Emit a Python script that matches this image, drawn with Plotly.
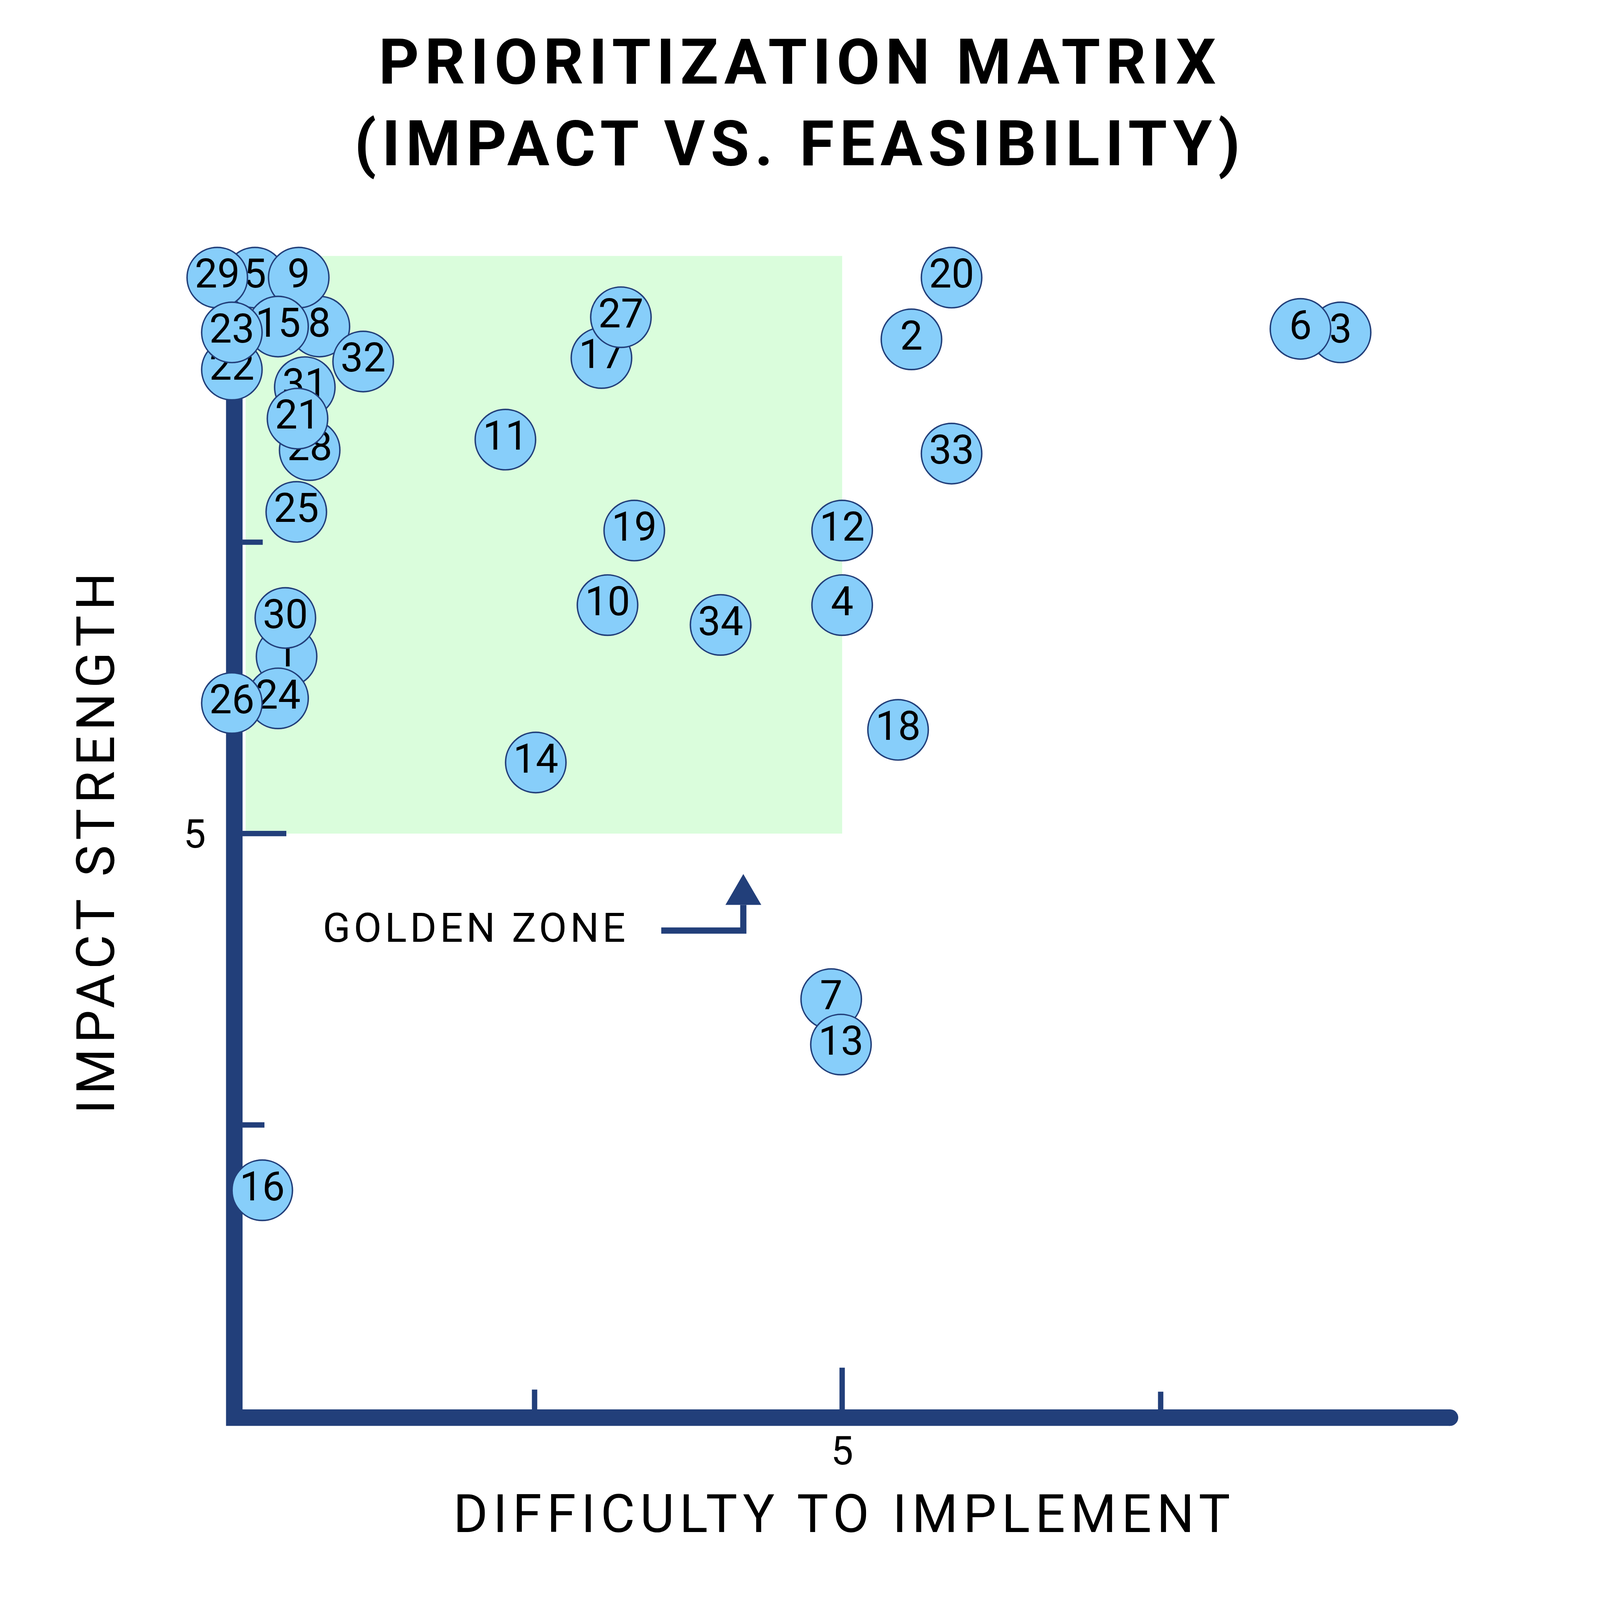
import plotly.graph_objects as go

# the page is drawn at about 4096 css px wide, so everything is scaled from the 7758 px picture
S = 4096 / 7758
W = 4096
H = round(7788 * S)

# colours
navy = "#223f7a"
dot_blue = "#87cefa"
zone_green = "#dafddc"

# points: id, difficulty (x), impact (y)
point_ids = [1, 2, 3, 4, 5, 6, 7, 8, 9, 10, 11, 12, 13, 14, 15, 16, 17,
             18, 19, 20, 21, 22, 23, 24, 25, 26, 27, 28, 29, 30, 31, 32, 33, 34]
difficulty = [0.43, 5.57, 9.10, 5.00, 0.17, 8.77, 4.91, 0.70, 0.53, 3.07, 2.23, 5.00,
              4.99, 2.48, 0.36, 0.23, 3.02, 5.46, 3.29, 5.90, 0.52, -0.02, -0.02,
              0.36, 0.51, -0.02, 3.18, 0.62, -0.14, 0.42, 0.58, 1.06, 5.90, 4.00]
impact = [6.52, 9.24, 9.30, 6.96, 9.77, 9.33, 3.58, 9.35, 9.77, 6.96, 8.38, 7.60,
          3.19, 5.61, 9.35, 1.94, 9.08, 5.89, 7.60, 9.77, 8.56, 8.98, 9.30,
          6.16, 7.76, 6.12, 9.43, 8.29, 9.77, 6.85, 8.83, 9.05, 8.26, 6.79]

# order the dots are stacked in (last one on top)
draw_order = [1, 2, 3, 4, 5, 6, 7, 8, 9, 10, 11, 12, 13, 14, 15, 16, 17, 18, 19,
              20, 22, 24, 25, 26, 27, 28, 29, 30, 31, 32, 33, 34, 21, 23]

# golden zone box and the little arrow pointing at it
zone_x = [0.093, 5.0]
zone_y = [5.0, 9.956]
arrow_line_x = [3.512, 4.187, 4.187]
arrow_line_y = [4.168, 4.168, 4.388]
arrow_head_x = [4.040, 4.187, 4.335]
arrow_head_y = [4.388, 4.653, 4.388]

# ticks (value, end of the tick mark)
x_ticks = [2.47, 5, 7.62]
x_tick_tops = [0.230, 0.418, 0.212]
y_ticks = [2.5, 5, 7.5]
y_tick_ends = [0.248, 0.428, 0.234]
x_labels = [5]
y_labels = [5]

x_range = [-0.16, 10.0]
y_range = [0.0602, 10.0]
half_line = 0.068  # half of the axis line width, in x units

fig = go.Figure()

for pid in draw_order:
    i = point_ids.index(pid)
    fig.add_trace(go.Scatter(
        x=[difficulty[i]], y=[impact[i]],
        mode="markers+text",
        text=[str(pid)],
        textposition="middle center",
        textfont=dict(family="Roboto", size=195 * S, color="black"),
        marker=dict(size=293 * S, color=dot_blue, line=dict(color=navy, width=7 * S)),
        cliponaxis=False,
        showlegend=False,
        hoverinfo="skip",
    ))

# golden zone
fig.add_shape(type="rect", xref="x", yref="y",
              x0=zone_x[0], x1=zone_x[1], y0=zone_y[0], y1=zone_y[1],
              fillcolor=zone_green, line=dict(width=0), layer="below")

# axis lines
fig.add_shape(type="rect", xref="x", yref="y",
              x0=-half_line, x1=half_line, y0=0, y1=9.9,
              fillcolor=navy, line=dict(width=0), layer="below")
fig.add_shape(type="rect", xref="x", yref="paper", ysizemode="pixel", yanchor=0,
              x0=-half_line, x1=x_range[1], y0=-80 * S, y1=0,
              fillcolor=navy, line=dict(width=0), layer="below")
# round end on the x axis line
fig.add_shape(type="circle", xref="paper", yref="paper",
              xsizemode="pixel", ysizemode="pixel", xanchor=1, yanchor=0,
              x0=-40 * S, x1=40 * S, y0=-80 * S, y1=0,
              fillcolor=navy, line=dict(width=0), layer="below")

# tick marks
for v, top in zip(x_ticks, x_tick_tops):
    fig.add_shape(type="line", xref="x", yref="y", x0=v, x1=v, y0=y_range[0], y1=top,
                  line=dict(color=navy, width=26 * S), layer="below")
for v, end in zip(y_ticks, y_tick_ends):
    fig.add_shape(type="line", xref="x", yref="y", x0=half_line, x1=end, y0=v, y1=v,
                  line=dict(color=navy, width=26 * S), layer="below")

# bent arrow
path = "M{},{} L{},{} L{},{}".format(arrow_line_x[0], arrow_line_y[0],
                                     arrow_line_x[1], arrow_line_y[1],
                                     arrow_line_x[2], arrow_line_y[2])
fig.add_shape(type="path", xref="x", yref="y", path=path,
              line=dict(color=navy, width=30 * S))
head = "M{},{} L{},{} L{},{} Z".format(arrow_head_x[0], arrow_head_y[0],
                                       arrow_head_x[1], arrow_head_y[1],
                                       arrow_head_x[2], arrow_head_y[2])
fig.add_shape(type="path", xref="x", yref="y", path=head,
              fillcolor=navy, line=dict(width=0))

fig.add_annotation(text="GOLDEN ZONE", xref="x", yref="y", x=1.987, y=4.19,
                   xanchor="center", yanchor="middle", showarrow=False,
                   font=dict(family="Roboto", size=197 * S, color="black"))

# axis titles
fig.add_annotation(text="DIFFICULTY TO IMPLEMENT", xref="paper", yref="paper",
                   x=0.5097, y=-0.0904, xanchor="center", yanchor="middle",
                   showarrow=False, font=dict(family="Roboto", size=256 * S, color="black"))
fig.add_annotation(text="IMPACT STRENGTH", xref="paper", yref="paper",
                   x=-0.0963, y=0.4909, xanchor="center", yanchor="middle",
                   textangle=-90, showarrow=False,
                   font=dict(family="Roboto", size=256 * S, color="black"))

tick_font = dict(family="Roboto", size=193 * S, color="black")
fig.update_xaxes(range=x_range, tickvals=x_labels, ticktext=[str(v) for v in x_labels],
                 ticks="", showline=False, showgrid=False, zeroline=False,
                 tickfont=tick_font, ticklabelstandoff=38)
fig.update_yaxes(range=y_range, tickvals=y_labels, ticktext=[str(v) for v in y_labels],
                 ticks="", showline=False, showgrid=False, zeroline=False,
                 tickfont=tick_font, ticklabelstandoff=22)

fig.update_layout(
    width=W, height=H,
    margin=dict(l=1041.7 * S, r=728 * S, t=1216 * S, b=954 * S),
    plot_bgcolor="rgba(0,0,0,0)", paper_bgcolor="white",
    title=dict(text="PRIORITIZATION MATRIX<br>(IMPACT VS. FEASIBILITY)",
               x=0.5, xanchor="center", y=0.948, yanchor="middle",
               font=dict(family="Roboto", size=305 * S, color="black", weight="bold")),
)

# spaced out letters like the original, and no page margin
spacing_js = """
document.body.style.margin = '0';
var gd = document.getElementById('{plot_id}');
gd.querySelectorAll('.gtitle').forEach(function(el) {
  el.style.letterSpacing = '0.087em';
});
gd.querySelectorAll('.annotation-text').forEach(function(el) {
  el.style.letterSpacing = el.textContent.indexOf('GOLDEN') === 0 ? '0.08em' : '0.097em';
});
"""

fig.write_html("out.html", post_script=spacing_js, config={"displayModeBar": False})
